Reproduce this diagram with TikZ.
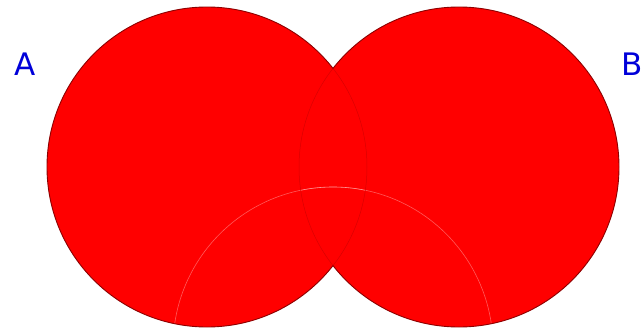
\documentclass[tikz,border=0pt]{standalone}
\usepackage{fontspec}
\setmainfont{DejaVu Sans}
\begin{document}
\begin{tikzpicture}[x=1pt,y=-1pt,
  setfill/.style={fill=red},
  outeredge/.style={draw=red!55!black,line width=0.9pt},
  inneredge/.style={draw=red!85!black,line width=0.5pt},
  faintedge/.style={draw=white,draw opacity=0.35,line width=0.6pt},
  setlabel/.style={text=blue!85!black,font=\fontsize{31}{32}\selectfont,inner sep=0pt}]
\useasboundingbox (0,0) rectangle (641,332);
\coordinate (cA) at (207,167);
\coordinate (cB) at (459,167);
\coordinate (cC) at (333,347);
% fills
\fill[setfill] (cA) circle (160pt);
\fill[setfill] (cB) circle (160pt);
% third circle outline, visible only inside A and B
\begin{scope}
  \clip (cA) circle (160pt);
  \draw[faintedge] (cC) circle (160pt);
\end{scope}
\begin{scope}
  \clip (cB) circle (160pt);
  \draw[faintedge] (cC) circle (160pt);
\end{scope}
% inner arcs (inside the other circle)
\begin{scope}
  \clip (cB) circle (160pt);
  \draw[inneredge] (cA) circle (160pt);
\end{scope}
\begin{scope}
  \clip (cA) circle (160pt);
  \draw[inneredge] (cB) circle (160pt);
\end{scope}
% outer edges
\begin{scope}[even odd rule]
  \clip (-10,-10) rectangle (651,342) (cB) circle (160pt);
  \draw[outeredge] (cA) circle (160pt);
\end{scope}
\begin{scope}[even odd rule]
  \clip (-10,-10) rectangle (651,342) (cA) circle (160pt);
  \draw[outeredge] (cB) circle (160pt);
\end{scope}
% labels
\node[setlabel] (labA) at (25,64) {A};
\node[setlabel,anchor=west] (labB) at (621,64) {B};
\end{tikzpicture}
\end{document}
